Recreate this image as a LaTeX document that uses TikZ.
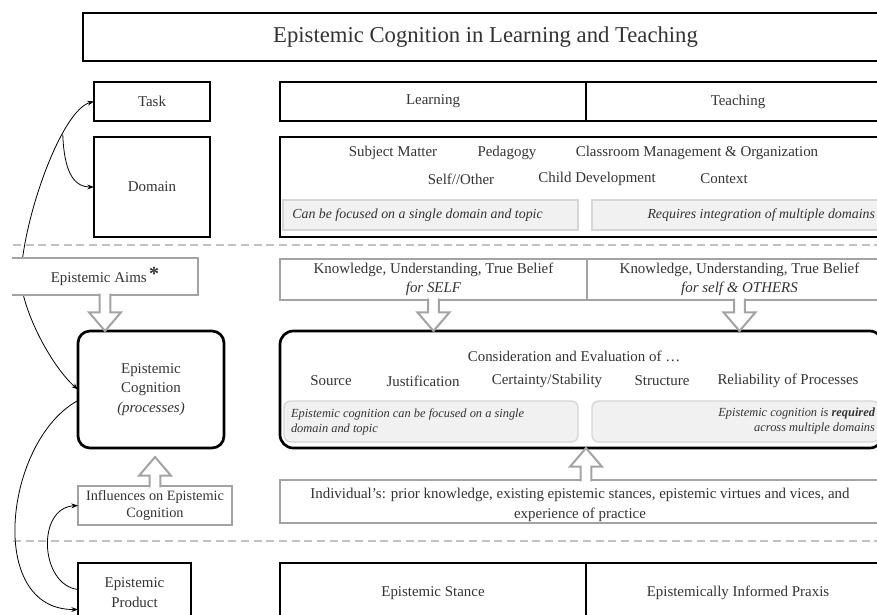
\documentclass[tikz,border=0pt]{standalone}
\usepackage{fontspec}
\setmainfont{Liberation Serif}
\usetikzlibrary{arrows.meta,calc}
\definecolor{txt}{HTML}{333333}
\definecolor{gbord}{HTML}{A3A3A3}
\definecolor{sfill}{HTML}{F1F1F1}
\definecolor{sbord}{HTML}{D6D6D6}
\definecolor{sepc}{HTML}{C2C2C2}
\newcommand{\bodyfont}{\fontsize{11.2}{14.5}\selectfont}
\newcommand{\dtext}{\fontsize{10.4}{12}\selectfont\itshape}
\newcommand{\etext}{\fontsize{9.3}{11.25}\selectfont\itshape}
\newcommand{\blockarr}[2]{%
  \draw[blk] let \p1=(#1), \p2=(#2), \n1={ifthenelse(\y2>\y1,1,-1)} in
    (\x1-4.1pt,{\y1-(\n1)*1pt}) -- (\x1-4.1pt,{\y2-(\n1)*14pt}) -- (\x1-12pt,{\y2-(\n1)*14pt})
    -- (\x1,\y2) -- (\x1+12pt,{\y2-(\n1)*14pt}) -- (\x1+4.1pt,{\y2-(\n1)*14pt}) -- (\x1+4.1pt,{\y1-(\n1)*1pt});}
\tikzset{
  base/.style={inner sep=0pt, outer sep=0pt, text=txt, font=\bodyfont, align=center},
  bx/.style n args={4}{at={({(#1+#3)/2},{(#2+#4)/2})}, minimum width={(#3-#1)*0.75pt}, minimum height={(#4-#2)*0.75pt}},
  bbox/.style={base, draw=black, line width=2pt, fill=white},
  gbox/.style={base, draw=gbord, line width=1.5pt, fill=white},
  sbox/.style={draw=sbord, line width=1pt, fill=sfill, inner sep=0pt},
  lbl/.style={base},
  septline/.style={draw=sepc, line width=1.6pt, dash pattern=on 6pt off 3.5pt},
  link/.style={draw=black, line width=0.6pt, ->},
  link2/.style={draw=black, line width=0.6pt, <->},
  blk/.style={draw=gbord, line width=1.5pt, fill=white, line join=miter},
}
\begin{document}
\begin{tikzpicture}[x=0.75pt,y=-0.75pt,>={Stealth[length=5pt,width=3.6pt]}]
\useasboundingbox (0,0) rectangle (877,614);
\clip (0,0) rectangle (877,614);

% title row
\node[bbox, font=\fontsize{17}{20}\selectfont, bx={83}{13}{888}{61}] (title) {Epistemic Cognition in Learning and Teaching};

% task / domain
\node[bbox, bx={94}{82}{210}{121}] (task) {Task};
\node[bbox, bx={280}{82}{586}{121}] (learn) {Learning};
\node[bbox, bx={586}{82}{890}{121}] (teach) {Teaching};
\node[bbox, bx={94}{137}{210}{237}] (domain) {Domain};
\node[bbox, bx={280}{137}{890}{237}] (dom) {};
\node[lbl] (sm) at (393,153) {Subject Matter};
\node[lbl] (ped) at (507,153) {Pedagogy};
\node[lbl] (cls) at (697,153) {Classroom Management \& Organization};
\node[lbl] (so) at (461,179) {Self//Other};
\node[lbl] (cd) at (597,179) {Child Development};
\node[lbl] (ctx) at (724,179) {Context};
\node[sbox, bx={283}{200}{578}{230}] (dgl) {};
\node[lbl, font=\dtext, anchor=west] (dglt) at ($(dgl.west)+(10,0)$) {Can be focused on a single domain and topic};
\node[sbox, bx={592}{200}{888}{230}] (dgr) {};
\node[lbl, font=\dtext, anchor=east] (dgrt) at (875,215) {Requires integration of multiple domains};

% separators
\draw[septline] (13,245) -- (877,245);
\draw[septline] (13,541) -- (877,541);

% aims (right)
\node[gbox, bx={280}{259}{587}{300}] (aimsl) {Knowledge, Understanding, True Belief\\\textit{for SELF}};
\node[gbox, bx={587}{259}{892}{300}] (aimsr) {Knowledge, Understanding, True Belief\\\textit{for self \& OTHERS}};

% epistemic cognition
\node[bbox, rounded corners=9pt, bx={78}{331}{224}{448}] (ec) {Epistemic\\Cognition\\\textit{(processes)}};
\node[bbox, rounded corners=10pt, bx={280}{331}{883}{448}] (big) {};
\node[lbl] (cons) at (574,356) {Consideration and Evaluation of …};
\node[lbl] (src) at (331,381) {Source};
\node[lbl] (just) at (423,381) {Justification};
\node[lbl] (cert) at (547,381) {Certainty/Stability};
\node[lbl] (struct) at (662,381) {Structure};
\node[lbl] (rel) at (788,381) {Reliability of Processes};
\node[sbox, rounded corners=5pt, bx={284}{401}{578}{442}] (esl) {};
\node[lbl, font=\etext, align=left, anchor=west] (eslt) at (291,421.5) {Epistemic cognition can be focused on a single\\domain and topic};
\node[sbox, rounded corners=5pt, bx={592}{401}{879}{442}] (esr) {};
\node[lbl, font=\etext, align=right, anchor=east] (esrt) at (875,421.5) {Epistemic cognition is \textbf{required}\\across multiple domains};

% influences
\node[gbox, bx={280}{480}{892}{523}] (indiv) {};
\node[lbl] (indt) at (580,505) {Individual’s: prior knowledge, existing epistemic stances, epistemic virtues and vices, and\\experience of practice};
\node[gbox, font=\fontsize{10.7}{12.75}\selectfont, bx={78}{486}{232}{525}] (infl) {Influences on Epistemic\\Cognition};

% product
\node[bbox, bx={78}{563}{191}{622}] (prod) {Epistemic\\Product};
\node[bbox, bx={280}{563}{586}{623}] (stance) {Epistemic Stance};
\node[bbox, bx={586}{563}{890}{623}] (praxis) {Epistemically Informed Praxis};

% curved connectors
\draw[link2] (ec.west) .. controls (50,365) and (19.5,305) .. (21,275)
   .. controls (24,215) and (62,110) .. (task.west) coordinate[pos=0.68] (fork);
\draw[link] (fork) .. controls (64,168) and (72,187) .. (domain.west);
\draw[link] ($(ec.west)+(0,11)$) .. controls (5,440) and (-15,610) .. ($(prod.west)+(0,17)$);
\draw[link] ($(prod.west)+(0,-3)$) .. controls (40,585) and (36,508) .. (infl.west);

% epistemic aims (left), drawn over the curve
\node[base, fill=white, bx={12}{258}{198}{295}] (aims) {Epistemic Aims\,\raisebox{1pt}{\fontsize{15}{15}\selectfont\bfseries *}};
\draw[draw=gbord, line width=1.5pt] (aims.north west) -- (aims.north east) -- (aims.south east) -- (aims.south west);

% block arrows
\blockarr{aims.south}{aims.south |- ec.north}
\blockarr{aimsl.south}{aimsl.south |- big.north}
\blockarr{aimsr.south}{aimsr.south |- big.north}
\blockarr{indiv.north}{indiv.north |- big.south}
\blockarr{infl.north}{$(infl.north |- ec.south)+(0,9)$}
\end{tikzpicture}
\end{document}
